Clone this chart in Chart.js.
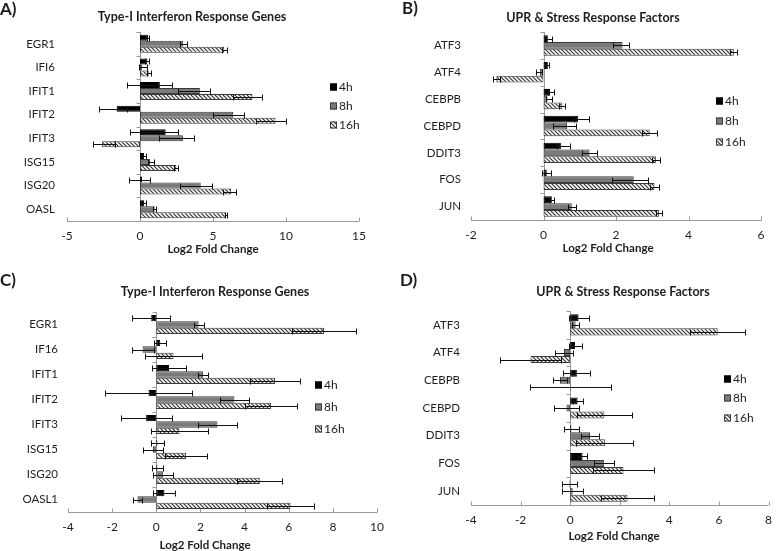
<!DOCTYPE html>
<html>
<head>
<meta charset="utf-8">
<script src="https://cdn.jsdelivr.net/npm/chart.js@4.4.1/dist/chart.umd.min.js"></script>
<style>
  body { margin: 0; background: #fff; width: 780px; height: 551px; position: relative; overflow: hidden; }
  canvas { position: absolute; left: 0; top: 0; }
</style>
</head>
<body>
<canvas id="cA" width="780" height="551"></canvas>
<canvas id="cB" width="780" height="551"></canvas>
<canvas id="cC" width="780" height="551"></canvas>
<canvas id="cD" width="780" height="551"></canvas>
<script>
// ---- data ----
var series_names = ['4h', '8h', '16h'];

// A) Type-I interferon genes
var genes_a = ['EGR1', 'IFI6', 'IFIT1', 'IFIT2', 'IFIT3', 'ISG15', 'ISG20', 'OASL'];
var a_4h  = [0.54, 0.5, 1.36, -1.6, 1.76, 0.27, 0.14, 0.27];
var a_8h  = [2.94, 0.15, 4.1, 6.38, 2.94, 0.68, 4.16, 1.0];
var a_16h = [5.77, 0.6, 7.7, 9.28, -2.62, 2.49, 6.24, 5.86];
var a_4h_err  = [[0.05, 0.05], [0.15, 0.15], [2.26, 0.84], [1.2, 0.7], [2.44, 0.84], [0.1, 0.16], [0.86, 0.54], [0.1, 0.16]];
var a_8h_err  = [[0.23, 0.27], [0.25, 0.3], [1.5, 0.7], [1.4, 0.72], [1.65, 0.77], [0.15, 0.27], [1.4, 0.75], [0.1, 0.13]];
var a_16h_err = [[0.18, 0.16], [0.15, 0.15], [1.3, 0.65], [1.36, 0.72], [0.6, 0.9], [0.15, 0.09], [0.58, 0.36], [0.07, 0.07]];

// B) UPR & stress response factors
var genes_b = ['ATF3', 'ATF4', 'CEBPB', 'CEBPD', 'DDIT3', 'FOS', 'JUN'];
var b_4h  = [0.12, 0.12, 0.18, 0.95, 0.48, 0.09, 0.23];
var b_8h  = [2.18, -0.1, 0.11, 0.65, 1.27, 2.49, 0.78];
var b_16h = [5.25, -1.3, 0.52, 2.93, 3.1, 3.06, 3.19];
var b_4h_err  = [[0.05, 0.12], [0.04, 0.04], [0.05, 0.12], [0.1, 0.3], [0.1, 0.24], [0.12, 0.12], [0.05, 0.05]];
var b_8h_err  = [[0.25, 0.18], [0.12, 0.05], [0.05, 0.13], [0.4, 0.25], [0.2, 0.2], [0.6, 0.4], [0.1, 0.12]];
var b_16h_err = [[0.1, 0.1], [0.1, 0.1], [0.08, 0.08], [0.2, 0.2], [0.1, 0.1], [0.12, 0.12], [0.08, 0.08]];

// C) Type-I interferon genes
var genes_c = ['EGR1', 'IF16', 'IFIT1', 'IFIT2', 'IFIT3', 'ISG15', 'ISG20', 'OASL1'];
var c_4h  = [-0.23, 0.18, 0.58, -0.35, -0.46, 0.05, 0.05, 0.37];
var c_8h  = [1.92, -0.62, 2.12, 3.54, 2.77, -0.15, 0.3, -0.85];
var c_16h = [7.6, 0.78, 5.38, 5.2, 1.05, 1.35, 4.69, 6.08];
var c_4h_err  = [0.85, 0.28, 0.77, 1.97, 1.15, 0.28, 0.25, 0.5];
var c_8h_err  = [0.22, 0.5, 0.22, 0.64, 0.9, 0.45, 0.47, 0.2];
var c_16h_err = [1.45, 1.3, 1.12, 1.18, 1.3, 0.95, 1.02, 1.07];

// D) UPR & stress response factors
var genes_d = ['ATF3', 'ATF4', 'CEBPB', 'CEBPD', 'DDIT3', 'FOS', 'JUN'];
var d_4h  = [0.34, 0.2, 0.27, 0.3, 0.05, 0.5, -0.03];
var d_8h  = [0.22, -0.25, -0.41, -0.15, 0.8, 1.37, 0.1];
var d_16h = [5.95, -1.6, 0.02, 1.38, 1.4, 2.15, 2.31];
var d_4h_err  = [0.4, 0.26, 0.54, 0.2, 0.3, 0.17, 0.3];
var d_8h_err  = [0.15, 0.38, 0.3, 0.5, 0.37, 0.4, 0.43];
var d_16h_err = [1.12, 1.22, 1.63, 1.1, 1.15, 1.22, 1.06];

// ---- layout of each panel (page pixels) ----
var panels = [
  { id: 'cA', letter: 'A)', title: 'Type-I Interferon Response Genes', labels: genes_a,
    values: [a_4h, a_8h, a_16h], errs: [a_4h_err, a_8h_err, a_16h_err],
    min: -5, max: 15, step: 5,
    area: { l: 67, r: 359, t: 32, b: 221 }, label_right: 55,
    letter_at: [0, 10], title_at: [192, 17], axis_title_at: [213, 249],
    legend_x: 330, legend_y: [87, 106, 125] },
  { id: 'cB', letter: 'B)', title: 'UPR & Stress Response Factors', labels: genes_b,
    values: [b_4h, b_8h, b_16h], errs: [b_4h_err, b_8h_err, b_16h_err],
    min: -2, max: 6, step: 2,
    area: { l: 471, r: 761, t: 32, b: 220 }, label_right: 461,
    letter_at: [402, 9], title_at: [593, 18], axis_title_at: [608, 248],
    legend_x: 716, legend_y: [101, 121, 142] },
  { id: 'cC', letter: 'C)', title: 'Type-I Interferon Response Genes', labels: genes_c,
    values: [c_4h, c_8h, c_16h], errs: [c_4h_err, c_8h_err, c_16h_err],
    min: -4, max: 10, step: 2,
    area: { l: 68, r: 377, t: 312, b: 512 }, label_right: 58,
    letter_at: [0, 281], title_at: [215, 292], axis_title_at: [205, 545],
    legend_x: 315, legend_y: [385, 407, 429] },
  { id: 'cD', letter: 'D)', title: 'UPR & Stress Response Factors', labels: genes_d,
    values: [d_4h, d_8h, d_16h], errs: [d_4h_err, d_8h_err, d_16h_err],
    min: -4, max: 8, step: 2,
    area: { l: 471, r: 777, t: 311, b: 505 }, label_right: 460,
    letter_at: [400, 281], title_at: [623, 292], axis_title_at: [614, 536],
    legend_x: 724, legend_y: [379, 398, 418] }
];

var FONT = 'Lato';
var TEXT = '#1e1e1e';
var AXIS = '#9a9a9a';

function make_hatch () {
  var c = document.createElement('canvas');
  c.width = 4; c.height = 4;
  var x = c.getContext('2d');
  x.fillStyle = '#fff';
  x.fillRect(0, 0, 4, 4);
  x.strokeStyle = '#333333';
  x.lineWidth = 1.2;
  x.beginPath();
  x.moveTo(-1, -1); x.lineTo(5, 5);
  x.moveTo(3, -1); x.lineTo(5, 1);
  x.moveTo(-1, 3); x.lineTo(1, 5);
  x.stroke();
  return x.createPattern(c, 'repeat');
}
var hatch = make_hatch();
var fills = ['#000000', '#7a7a7a', hatch];
var borders = ['#000000', '#3a3a3a', '#3a3a3a'];

function panel_plugin (p) {
  return {
    id: 'panel_' + p.id,
    beforeDatasetsDraw: function (chart) {
      var ctx = chart.ctx, xs = chart.scales.x, a = chart.chartArea;
      var n = p.labels.length;
      ctx.save();
      ctx.strokeStyle = AXIS;
      ctx.lineWidth = 1;
      ctx.beginPath();
      // value axis along the bottom, small ticks upward
      var yb = Math.round(a.bottom) + 0.5;
      ctx.moveTo(a.left, yb); ctx.lineTo(a.right, yb);
      xs.ticks.forEach(function (t) {
        var x = Math.round(xs.getPixelForValue(t.value)) + 0.5;
        ctx.moveTo(x, yb); ctx.lineTo(x, yb - 4);
      });
      // category axis crossing at 0
      var x0 = Math.round(xs.getPixelForValue(0)) + 0.5;
      ctx.moveTo(x0, a.top); ctx.lineTo(x0, a.bottom);
      for (var i = 0; i < n; i++) {
        var y = Math.round(a.top + i * (a.bottom - a.top) / n) + 0.5;
        ctx.moveTo(x0 - 4, y); ctx.lineTo(x0, y);
      }
      ctx.stroke();
      ctx.restore();
    },
    afterDatasetsDraw: function (chart) {
      var ctx = chart.ctx, xs = chart.scales.x;
      ctx.save();
      // error bars
      ctx.strokeStyle = '#111';
      ctx.lineWidth = 1;
      p.errs.forEach(function (err, di) {
        var meta = chart.getDatasetMeta(di);
        meta.data.forEach(function (bar, i) {
          var v = p.values[di][i];
          var e = err[i];
          var lo = Array.isArray(e) ? e[0] : e;
          var hi = Array.isArray(e) ? e[1] : e;
          var x1 = Math.round(xs.getPixelForValue(v - lo)) + 0.5;
          var x2 = Math.round(xs.getPixelForValue(v + hi)) + 0.5;
          var y = Math.round(bar.y) + 0.5;
          ctx.beginPath();
          ctx.moveTo(x1, y); ctx.lineTo(x2, y);
          ctx.moveTo(x1, y - 3); ctx.lineTo(x1, y + 3);
          ctx.moveTo(x2, y - 3); ctx.lineTo(x2, y + 3);
          ctx.stroke();
        });
      });
      // letter, title, axis title
      ctx.fillStyle = TEXT;
      ctx.textBaseline = 'middle';
      ctx.textAlign = 'left';
      ctx.font = 'bold 17px ' + FONT;
      ctx.fillText(p.letter, p.letter_at[0], p.letter_at[1]);
      ctx.textAlign = 'center';
      ctx.font = 'bold 12.5px ' + FONT;
      ctx.fillText(p.title, p.title_at[0], p.title_at[1]);
      ctx.font = 'bold 11.5px ' + FONT;
      ctx.fillText('Log2 Fold Change', p.axis_title_at[0], p.axis_title_at[1]);
      // legend
      ctx.textAlign = 'left';
      ctx.font = '12px ' + FONT;
      series_names.forEach(function (s, i) {
        var y = p.legend_y[i];
        ctx.fillStyle = fills[i];
        ctx.fillRect(p.legend_x, y - 3.5, 7, 7);
        ctx.strokeStyle = borders[i];
        ctx.strokeRect(p.legend_x + 0.5, y - 3, 6, 6);
        ctx.fillStyle = TEXT;
        ctx.fillText(s, p.legend_x + 9, y);
      });
      ctx.restore();
    }
  };
}

function create_panel (p) {
  var ctx = document.getElementById(p.id).getContext('2d');
  var W = 780, H = 551;
  var datasets = series_names.map(function (s, i) {
    return {
      label: s,
      data: p.values[i],
      backgroundColor: fills[i],
      borderColor: borders[i],
      borderWidth: 1,
      borderSkipped: false,
      categoryPercentage: 0.76,
      barPercentage: 1.0
    };
  });
  return new Chart(ctx, {
    type: 'bar',
    data: { labels: p.labels, datasets: datasets },
    options: {
      indexAxis: 'y',
      responsive: false,
      animation: false,
      events: [],
      layout: { padding: { left: 0, top: p.area.t, right: W - p.area.r, bottom: 0 } },
      plugins: { legend: { display: false }, title: { display: false }, tooltip: { enabled: false } },
      scales: {
        x: {
          type: 'linear', min: p.min, max: p.max,
          grid: { display: false, drawTicks: false },
          border: { display: false },
          ticks: { stepSize: p.step, padding: 8, color: TEXT, font: { family: FONT, size: 12 } },
          afterFit: function (s) { s.height = H - p.area.b; }
        },
        y: {
          grid: { display: false, drawTicks: false },
          border: { display: false },
          ticks: { padding: p.area.l - p.label_right, color: TEXT, font: { family: FONT, size: 11.5 } },
          afterFit: function (s) { s.width = p.area.l; }
        }
      }
    },
    plugins: [panel_plugin(p)]
  });
}

panels.forEach(create_panel);
</script>
</body>
</html>
